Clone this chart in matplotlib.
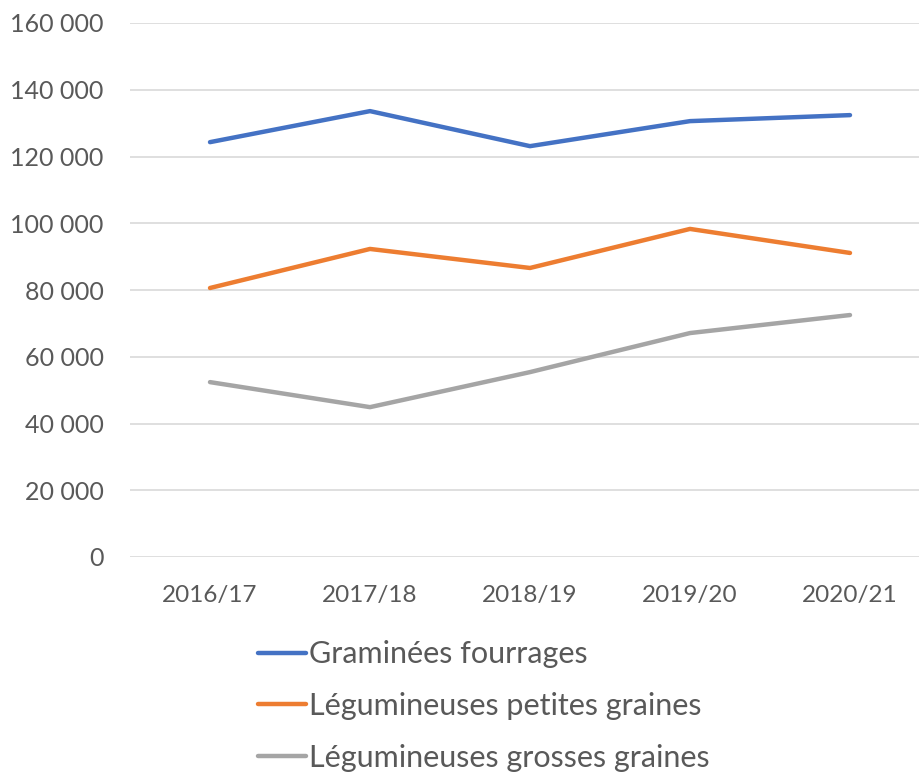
import matplotlib
matplotlib.use("Agg")
import matplotlib.pyplot as plt
from matplotlib.ticker import FuncFormatter

campagnes = ["2016/17", "2017/18", "2018/19", "2019/20", "2020/21"]
graminees = [124300, 133600, 123100, 130600, 132400]
leg_petites = [80600, 92300, 86600, 98300, 91100]
leg_grosses = [52400, 44900, 55400, 67100, 72500]

plt.rcParams["font.family"] = ["Lato", "DejaVu Sans"]
txt = "#595959"

W, H = 919, 774
fig = plt.figure(figsize=(W / 100, H / 100), dpi=100)
ax = fig.add_axes([130 / W, (H - 557) / H, 800 / W, 534 / H])

x = range(len(campagnes))
ax.plot(x, graminees, color="#4472C4", lw=3.2, label="Graminées fourrages", solid_capstyle="round")
ax.plot(x, leg_petites, color="#ED7D31", lw=3.2, label="Légumineuses petites graines", solid_capstyle="round")
ax.plot(x, leg_grosses, color="#A5A5A5", lw=3.2, label="Légumineuses grosses graines", solid_capstyle="round")

ax.set_xlim(-0.5, len(campagnes) - 0.5)
ax.set_ylim(0, 160000)
ax.set_yticks(range(0, 160001, 20000))
ax.yaxis.set_major_formatter(FuncFormatter(lambda v, p: f"{int(v):,}".replace(",", " ")))
ax.set_xticks(list(x))
ax.set_xticklabels(campagnes)
ax.grid(axis="y", color="#D9D9D9", lw=1.2)
ax.set_axisbelow(True)
for s in ax.spines.values():
    s.set_visible(False)
ax.tick_params(axis="y", length=0, labelsize=18, colors=txt, pad=19)
ax.tick_params(axis="x", length=0, labelsize=17.5, colors=txt, pad=20)

leg = fig.legend(loc="upper left", bbox_to_anchor=(243 / W, 1 - 625 / H), frameon=False,
                 fontsize=22, handlelength=1.55, handletextpad=0.1, labelspacing=0.78,
                 borderpad=0, labelcolor=txt)

fig.savefig("out.png", dpi=100)
